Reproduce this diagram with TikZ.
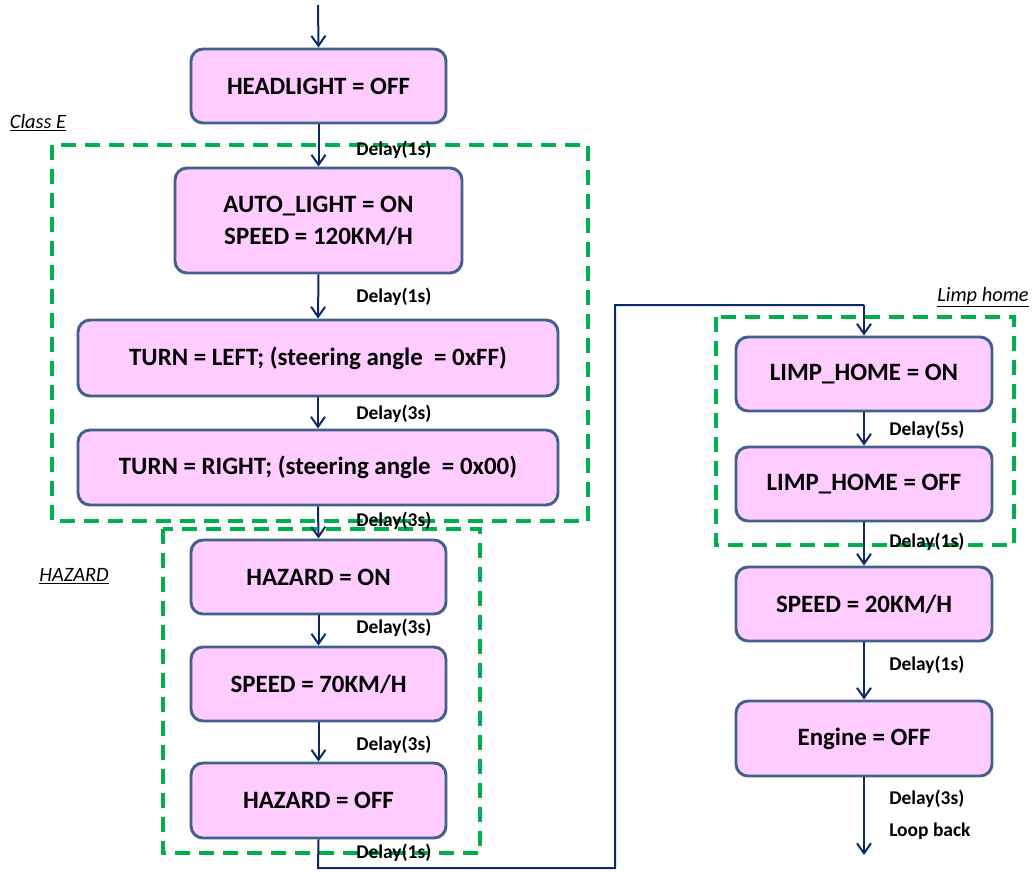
\documentclass[tikz,border=0pt]{standalone}
\usepackage{fontspec}
\setmainfont{Carlito}
\usetikzlibrary{arrows.meta}
\definecolor{boxfill}{HTML}{FFCCFF}
\definecolor{boxline}{HTML}{41618C}
\definecolor{arrcol}{HTML}{0A2A66}
\definecolor{grn}{HTML}{00B050}
\tikzset{
  box/.style 2 args={draw=boxline, fill=boxfill, line width=2.2pt, rounded corners=9pt,
    minimum width=#1*0.75pt, minimum height=#2*0.75pt, inner sep=0pt,
    font=\fontsize{18.7}{22}\selectfont\bfseries, align=center},
  arr/.style={draw=arrcol, line width=1.5pt, -{Straight Barb[length=7.5pt,width=10.5pt,line width=1.5pt]}},
  link/.style={draw=arrcol, line width=1.5pt},
  grp/.style={draw=grn, line width=2.4pt, dash pattern=on 11pt off 7pt},
  delay/.style={anchor=west, inner sep=0pt, font=\fontsize{14.6}{17}\selectfont\bfseries},
  grptitle/.style={inner sep=0pt, font=\fontsize{15.3}{18}\selectfont\itshape}
}
\begin{document}
\begin{tikzpicture}[x=0.75pt, y=-0.75pt]
\useasboundingbox (0,0) rectangle (1034,871);
% group frames
\draw[grp] (52,145) rectangle (588,521);
\draw[grp] (163,529) rectangle (480,853);
\draw[grp] (716,317) rectangle (1014,545);
% group titles
\node[grptitle] (tE) at (38,123) {\underline{Class E}};
\node[grptitle] (tH) at (74,576) {\underline{HAZARD}};
\node[grptitle] (tL) at (983,297) {\underline{Limp home}};
% boxes left column
\node[box={255}{74}] (head) at (318.5,86) {HEADLIGHT = OFF};
\node[box={287}{105}] (auto) at (318.5,220.5) {AUTO\_LIGHT = ON\\[2pt]SPEED = 120KM/H};
\node[box={480}{76}] (tleft) at (318,358) {TURN = LEFT; (steering angle\ \ = 0xFF)};
\node[box={480}{75}] (tright) at (318,467.5) {TURN = RIGHT; (steering angle\ \ = 0x00)};
\node[box={255}{74}] (hon) at (318.5,577) {HAZARD = ON};
\node[box={255}{74}] (sp70) at (318.5,684) {SPEED = 70KM/H};
\node[box={255}{75}] (hoff) at (318.5,800.5) {HAZARD = OFF};
% boxes right column
\node[box={256}{74}] (lon) at (864,374) {LIMP\_HOME = ON};
\node[box={256}{74}] (loff) at (864,484) {LIMP\_HOME = OFF};
\node[box={256}{74}] (sp20) at (864,604) {SPEED = 20KM/H};
\node[box={256}{75}] (eng) at (864,738.5) {Engine = OFF};
% connectors
\coordinate (start) at (318,5);
\coordinate (c1) at (318,868);
\coordinate (c2) at (615,868);
\coordinate (c3) at (615,305);
\coordinate (c4) at (864,305);
\coordinate (endp) at (864,855);
\draw[arr] (start) -- (head.north);
\draw[arr] (head.south) -- (auto.north);
\draw[arr] (auto.south) -- (tleft.north);
\draw[arr] (tleft.south) -- (tright.north);
\draw[arr] (tright.south) -- (hon.north);
\draw[arr] (hon.south) -- (sp70.north);
\draw[arr] (sp70.south) -- (hoff.north);
\draw[link] (hoff.south) -- (c1) -- (c2) -- (c3) -- (c4);
\draw[arr] (c4) -- (lon.north);
\draw[arr] (lon.south) -- (loff.north);
\draw[arr] (loff.south) -- (sp20.north);
\draw[arr] (sp20.south) -- (eng.north);
\draw[arr] (eng.south) -- (endp);
% delay labels
\node[delay] (d1) at (356,150) {Delay(1s)};
\node[delay] (d2) at (356,297) {Delay(1s)};
\node[delay] (d3) at (356,414) {Delay(3s)};
\node[delay] (d4) at (356,521) {Delay(3s)};
\node[delay] (d5) at (356,628) {Delay(3s)};
\node[delay] (d6) at (356,745) {Delay(3s)};
\node[delay] (d7) at (356,853) {Delay(1s)};
\node[delay] (d8) at (889,430) {Delay(5s)};
\node[delay] (d9) at (889,542) {Delay(1s)};
\node[delay] (d10) at (889,665) {Delay(1s)};
\node[delay] (d11) at (889,799) {Delay(3s)};
\node[delay] (d12) at (889,831) {Loop back};
\end{tikzpicture}
\end{document}
